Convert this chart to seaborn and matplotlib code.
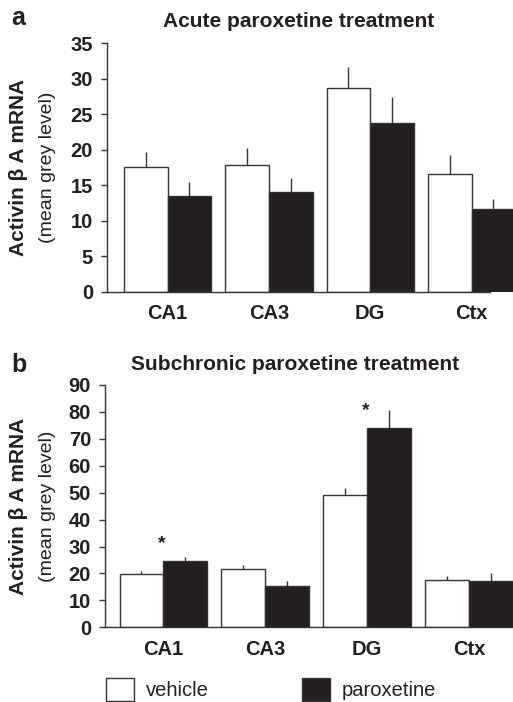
import matplotlib
matplotlib.use("Agg")
import matplotlib.pyplot as plt
import matplotlib.transforms as mtransforms
import seaborn as sns
import pandas as pd

# ---- data ----
regions = ["CA1", "CA3", "DG", "Ctx"]
treatments = ["vehicle", "paroxetine"]

acute_vehicle = [17.6, 17.8, 28.7, 16.6]
acute_vehicle_sem = [2.1, 2.5, 2.9, 2.6]
acute_parox = [13.5, 14.1, 23.8, 11.7]
acute_parox_sem = [1.95, 1.9, 3.6, 1.4]

sub_vehicle = [19.7, 21.5, 49.3, 17.7]
sub_vehicle_sem = [1.3, 1.5, 2.4, 1.4]
sub_parox = [24.75, 15.35, 73.9, 17.3]
sub_parox_sem = [1.25, 1.95, 6.8, 2.7]

sub_significant = [True, False, True, False]

acute_yticks = [0, 5, 10, 15, 20, 25, 30, 35]
sub_yticks = [0, 10, 20, 30, 40, 50, 60, 70, 80, 90]

title_a = "Acute paroxetine treatment"
title_b = "Subchronic paroxetine treatment"
ylabel_bold = "Activin β A mRNA"
ylabel_norm = "(mean grey level)"

# ---- style ----
sns.set_style("ticks")
plt.rcParams["font.family"] = ["Liberation Sans", "DejaVu Sans"]
INK = "#231f20"
EDGE = "#333333"
palette = {"vehicle": "white", "paroxetine": INK}


def long_df(veh, par):
    return pd.DataFrame({
        "region": regions * 2,
        "treatment": ["vehicle"] * len(regions) + ["paroxetine"] * len(regions),
        "value": list(veh) + list(par),
    })


W, H = 513, 702
fig = plt.figure(figsize=(W / 100, H / 100), dpi=100)


def px_axes(left, top, bottom, right=W):
    return fig.add_axes([left / W, 1 - bottom / H, (right - left) / W, (bottom - top) / H])


ax_a = px_axes(107, 43.3, 291.7)
ax_b = px_axes(105, 385.0, 627.3)


def draw_panel(ax, veh, veh_sem, par, par_sem, yticks, xlim, spine_end, legend):
    df = long_df(veh, par)
    sns.barplot(data=df, x="region", y="value", hue="treatment", order=regions,
                hue_order=treatments, palette=palette, saturation=1, width=0.86,
                errorbar=None, edgecolor=EDGE, linewidth=1.0, ax=ax, legend=legend)
    for cont, sems in zip(ax.containers, [veh_sem, par_sem]):
        for bar, s in zip(cont, sems):
            xc = bar.get_x() + bar.get_width() / 2
            top = bar.get_height()
            ax.vlines(xc, top, top + s, color=EDGE, lw=1.0, zorder=1)
    ax.set_ylim(yticks[0], yticks[-1])
    ax.set_yticks(yticks)
    ax.set_xlim(*xlim)
    ax.set_xlabel("")
    ax.set_ylabel("")
    for s in ["top", "right"]:
        ax.spines[s].set_visible(False)
    for s in ["left", "bottom"]:
        ax.spines[s].set_color(EDGE)
        ax.spines[s].set_linewidth(1.0)
    if spine_end is not None:
        ax.spines["bottom"].set_bounds(xlim[0], spine_end)
    ax.tick_params(axis="y", length=4, width=1, color=EDGE, pad=6,
                   labelsize=14.5, labelcolor=INK)
    ax.tick_params(axis="x", length=0, pad=9, labelsize=14.5, labelcolor=INK)
    for lab in ax.get_yticklabels() + ax.get_xticklabels():
        lab.set_fontweight("bold")
    trans = mtransforms.blended_transform_factory(fig.transFigure, ax.transAxes)
    ax.text(19 / W, 0.5, ylabel_bold, rotation=90, ha="center", va="center",
            fontsize=15, fontweight="bold", color=INK, transform=trans)
    ax.text(48 / W, 0.5, ylabel_norm, rotation=90, ha="center", va="center",
            fontsize=14, color=INK, transform=trans)


draw_panel(ax_a, acute_vehicle, acute_vehicle_sem, acute_parox, acute_parox_sem,
           acute_yticks, (-0.599, 3.409), 3.18, False)
draw_panel(ax_b, sub_vehicle, sub_vehicle_sem, sub_parox, sub_parox_sem,
           sub_yticks, (-0.573, 3.433), None, True)

# significance stars above the paroxetine bars' group
for i, (sig, v) in enumerate(zip(sub_significant, sub_parox)):
    if sig:
        ax_b.annotate("*", xy=(i, v), xytext=(-1, 12.5), textcoords="offset points",
                      ha="center", va="center", fontsize=14, fontweight="bold", color=INK)

# titles & panel letters
fig.text(298.5 / W, 1 - 26.7 / H, title_a, ha="center", va="baseline",
         fontsize=15, fontweight="bold", color=INK)
fig.text(295 / W, 1 - 370 / H, title_b, ha="center", va="baseline",
         fontsize=15, fontweight="bold", color=INK)
fig.text(11 / W, 1 - 25 / H, "a", ha="left", va="baseline",
         fontsize=18, fontweight="bold", color=INK)
fig.text(11 / W, 1 - 371.7 / H, "b", ha="left", va="baseline",
         fontsize=18, fontweight="bold", color=INK)

# legend
sns.move_legend(ax_b, loc="lower left", bbox_to_anchor=(106 / W, 1.3 / H),
                bbox_transform=fig.transFigure, ncol=2, frameon=False, title=None,
                fontsize=14.5, handlelength=1.4, handleheight=1.35,
                handletextpad=0.6, columnspacing=4.6, borderpad=0, borderaxespad=0)
leg = ax_b.get_legend()
for t in leg.get_texts():
    t.set_color(INK)

fig.savefig("out.png", dpi=100)
